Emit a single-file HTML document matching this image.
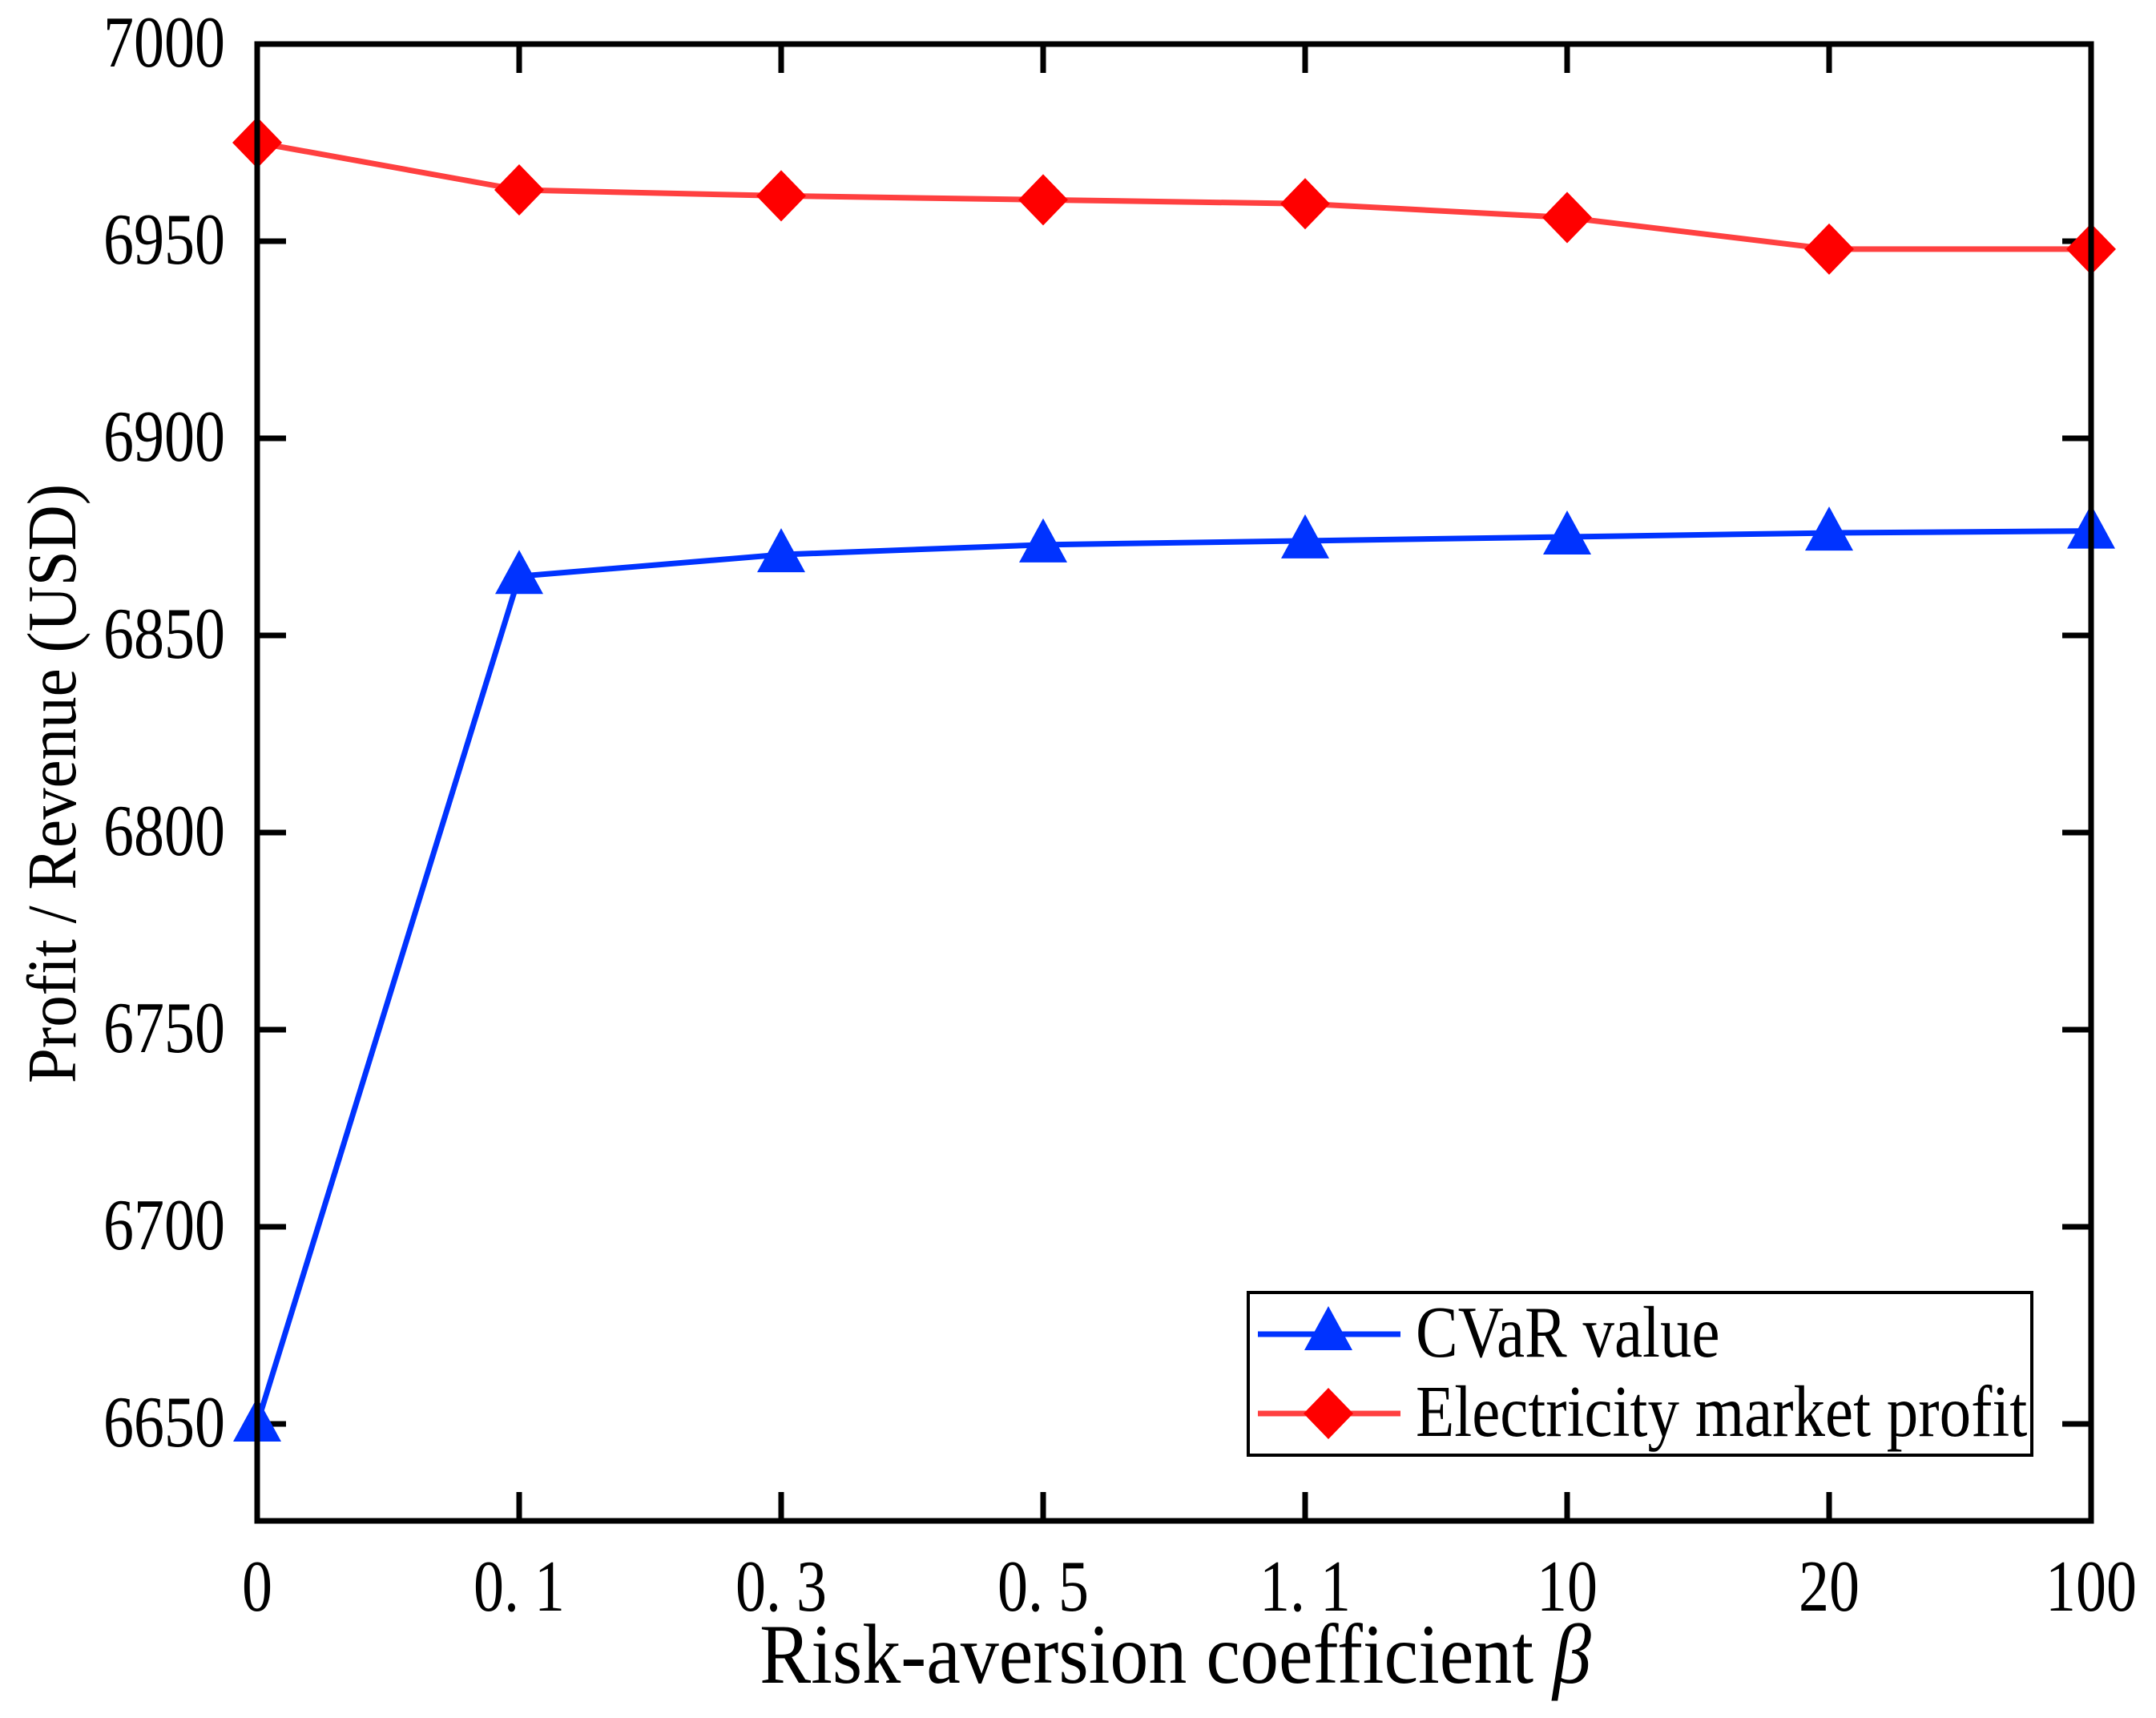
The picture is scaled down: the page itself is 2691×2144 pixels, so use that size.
<!DOCTYPE html>
<html><head><meta charset="utf-8"><style>
html,body{margin:0;padding:0;background:#fff;}
svg{display:block;}
text{font-family:"Liberation Serif","Noto Serif CJK SC",serif;fill:#000;}
</style></head><body>
<svg id="chart" width="2691" height="2144" viewBox="0 0 2691 2144" xmlns="http://www.w3.org/2000/svg"></svg>
<script>
const categories = ["0", "0. 1", "0. 3", "0. 5", "1. 1", "10", "20", "100"];
const profitValues = [6975, 6963, 6961.5, 6960.5, 6959.5, 6956, 6948, 6948];
const cvarValues = [6650, 6865, 6870.5, 6873, 6874, 6875, 6876, 6876.5];
const yTicks = [6650, 6700, 6750, 6800, 6850, 6900, 6950, 7000];

const L = 321, R = 2610, T = 55, B = 1898;
const yMin = 6625.4, yMax = 7000;
const xScale = i => L + i * (R - L) / (categories.length - 1);
const yScale = v => B - (v - yMin) / (yMax - yMin) * (B - T);
const svg = document.getElementById('chart');
const NS = 'http://www.w3.org/2000/svg';
function mk(tag, attrs, parent) {
  const e = document.createElementNS(NS, tag);
  for (const k in attrs) e.setAttribute(k, attrs[k]);
  (parent || svg).appendChild(e);
  return e;
}
function tallText(x, y, str, size, anchor, sy, parent) {
  const t = mk('text', {x: 0, y: 0, 'text-anchor': anchor, 'font-size': size, transform: `translate(${x},${y}) scale(1,${sy})`}, parent);
  t.textContent = str;
  return t;
}
const tickG = mk('g', {stroke: '#000', 'stroke-width': 7});


yTicks.forEach(v => {
  const y = yScale(v);
  mk('line', {x1: L, x2: L + 36, y1: y, y2: y}, tickG);
  mk('line', {x1: R, x2: R - 36, y1: y, y2: y}, tickG);
  const t = tallText(281, y + 28, String(v), 76, 'end', 1.2);
  
  
});
categories.forEach((c, i) => {
  const x = xScale(i);
  mk('line', {x1: x, x2: x, y1: B, y2: B - 36}, tickG);
  mk('line', {x1: x, x2: x, y1: T, y2: T + 36}, tickG);
  const t = tallText(x, 2010, c, 76, 'middle', 1.2);
  
  
});
function series(vals, color, mcolor, marker, name) {
  const g = mk('g', {});
  
  
  const pts = vals.map((v, i) => xScale(i) + ',' + yScale(v)).join(' ');
  mk('polyline', {points: pts, fill: 'none', stroke: color, 'stroke-width': 7}, g);
  vals.forEach((v, i) => {
    const x = xScale(i), y = yScale(v);
    let m;
    if (marker === 'tri') m = mk('polygon', {points: `${x},${y-33} ${x-30},${y+22} ${x+30},${y+22}`, fill: mcolor}, g);
    else m = mk('polygon', {points: `${x},${y-32} ${x+31},${y} ${x},${y+32} ${x-31},${y}`, fill: mcolor}, g);
    
    
  });
}
series(profitValues, '#ff4040', '#ff0000', 'dia', 'profit-series');
series(cvarValues, '#0033ff', '#0033ff', 'tri', 'cvar-series');
const frame = mk('rect', {x: L, y: T, width: R - L, height: B - T, fill: 'none', stroke: '#000', 'stroke-width': 7});


const xt = mk('text', {x: 0, y: 0, 'text-anchor': 'middle', 'font-size': 96, transform: 'translate(1467,2100) scale(1,1.1)'});
xt.innerHTML = 'Risk-aversion coefficient <tspan font-style="italic">β</tspan>';


const yt = mk('text', {x: 0, y: 0, 'text-anchor': 'middle', 'font-size': 79, transform: 'translate(94,978) rotate(-90) scale(1,1.1)'});
yt.textContent = 'Profit / Revenue (USD)';


const lg = mk('g', {});


mk('rect', {x: 1558, y: 1613, width: 978, height: 203, fill: '#fff', stroke: '#000', 'stroke-width': 4}, lg);
mk('line', {x1: 1570, x2: 1748, y1: 1665, y2: 1665, stroke: '#0033ff', 'stroke-width': 7}, lg);
mk('polygon', {points: '1658,1630 1628,1685 1688,1685', fill: '#0033ff'}, lg);
mk('line', {x1: 1570, x2: 1748, y1: 1764, y2: 1764, stroke: '#ff4040', 'stroke-width': 7}, lg);
mk('polygon', {points: '1658,1732 1689,1764 1658,1796 1627,1764', fill: '#ff0000'}, lg);
const l1 = tallText(1767, 1693, 'CVaR value', 79, 'start', 1.15, lg);


const l2 = tallText(1767, 1792, 'Electricity market profit', 79, 'start', 1.15, lg);


</script>
</body></html>
